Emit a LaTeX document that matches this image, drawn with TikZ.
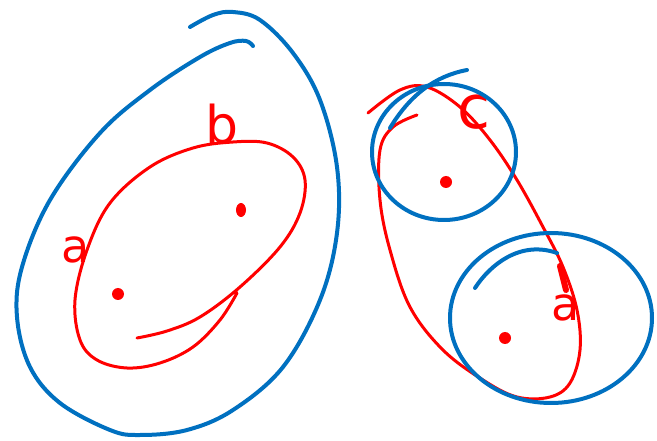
\documentclass[tikz,border=0pt]{standalone}
\usepackage{fontspec}
\usepackage{tikz}
\newfontfamily\handfont{DejaVu Sans}
\definecolor{penblue}{HTML}{0070C0}
\definecolor{penred}{HTML}{FF0000}

\begin{document}
\begin{tikzpicture}[
  x=1pt, y=-1pt,
  bluepen/.style={draw=penblue, line width=4pt, line cap=round, line join=round},
  redpen/.style={draw=penred, line width=3pt, line cap=round, line join=round},
  lbl/.style={text=penred, inner sep=0pt, font=\handfont\fontsize{46}{46}\selectfont},
  spot/.style={fill=penred}
]
\useasboundingbox (0,0) rectangle (657,441);

% left: big blue loop
\draw[bluepen] plot[smooth, tension=0.6] coordinates {
  (253,46) (246,41) (230,43) (200,57) (150,90) (100,133) (50,200) (22,267)
  (17,317) (30,367) (60,403) (110,430) (140,435) (187,430) (233,410) (283,367)
  (320,300) (337,233) (337,167) (320,100) (293,53) (260,20) (233,12) (213,15) (190,27)};

% left: red set
\draw[redpen] plot[smooth, tension=0.6] coordinates {
  (137,338) (167,331) (200,317) (240,287) (280,247) (300,213) (305,180) (293,157)
  (267,143) (233,142) (193,148) (150,167) (110,203) (87,250) (75,300) (80,340)
  (97,360) (127,368) (160,363) (193,347) (220,320) (237,293)};
\node[lbl] (la) at (76,250) {a};
\node[lbl, font=\handfont\fontsize{52}{52}\selectfont] (lb) at (222,124) {b};
\fill[spot] (241,210) ellipse (5pt and 7pt);
\fill[spot] (118,294) circle (6pt);

% right: red set
\draw[redpen] plot[smooth, tension=0.6] coordinates {
  (368,113) (400,90) (427,87) (460,107) (490,140) (517,180) (543,227) (563,267)
  (577,310) (580,350) (570,383) (550,397) (517,397) (483,380) (443,350) (410,307)
  (390,250) (380,200) (380,150) (393,127) (417,115)};
\node[lbl, font=\handfont\fontsize{60}{60}\selectfont] (lc) at (474,112) {c};
\node[lbl] (ld) at (566,308) {a};
\draw[penred, line width=6pt, line cap=round] (560,266) -- (566,290);
\fill[spot] (446,182) circle (6pt);
\fill[spot] (505,338) circle (6pt);

% right: blue circles
\draw[bluepen] (444,152) ellipse (72pt and 68pt);
\draw[bluepen] (390,128) .. controls (410,95) and (435,76) .. (467,70);
\draw[bluepen] (551,318) ellipse (101pt and 85pt);
\draw[bluepen] (475,288) .. controls (490,265) and (520,240) .. (557,253);
\end{tikzpicture}
\end{document}
